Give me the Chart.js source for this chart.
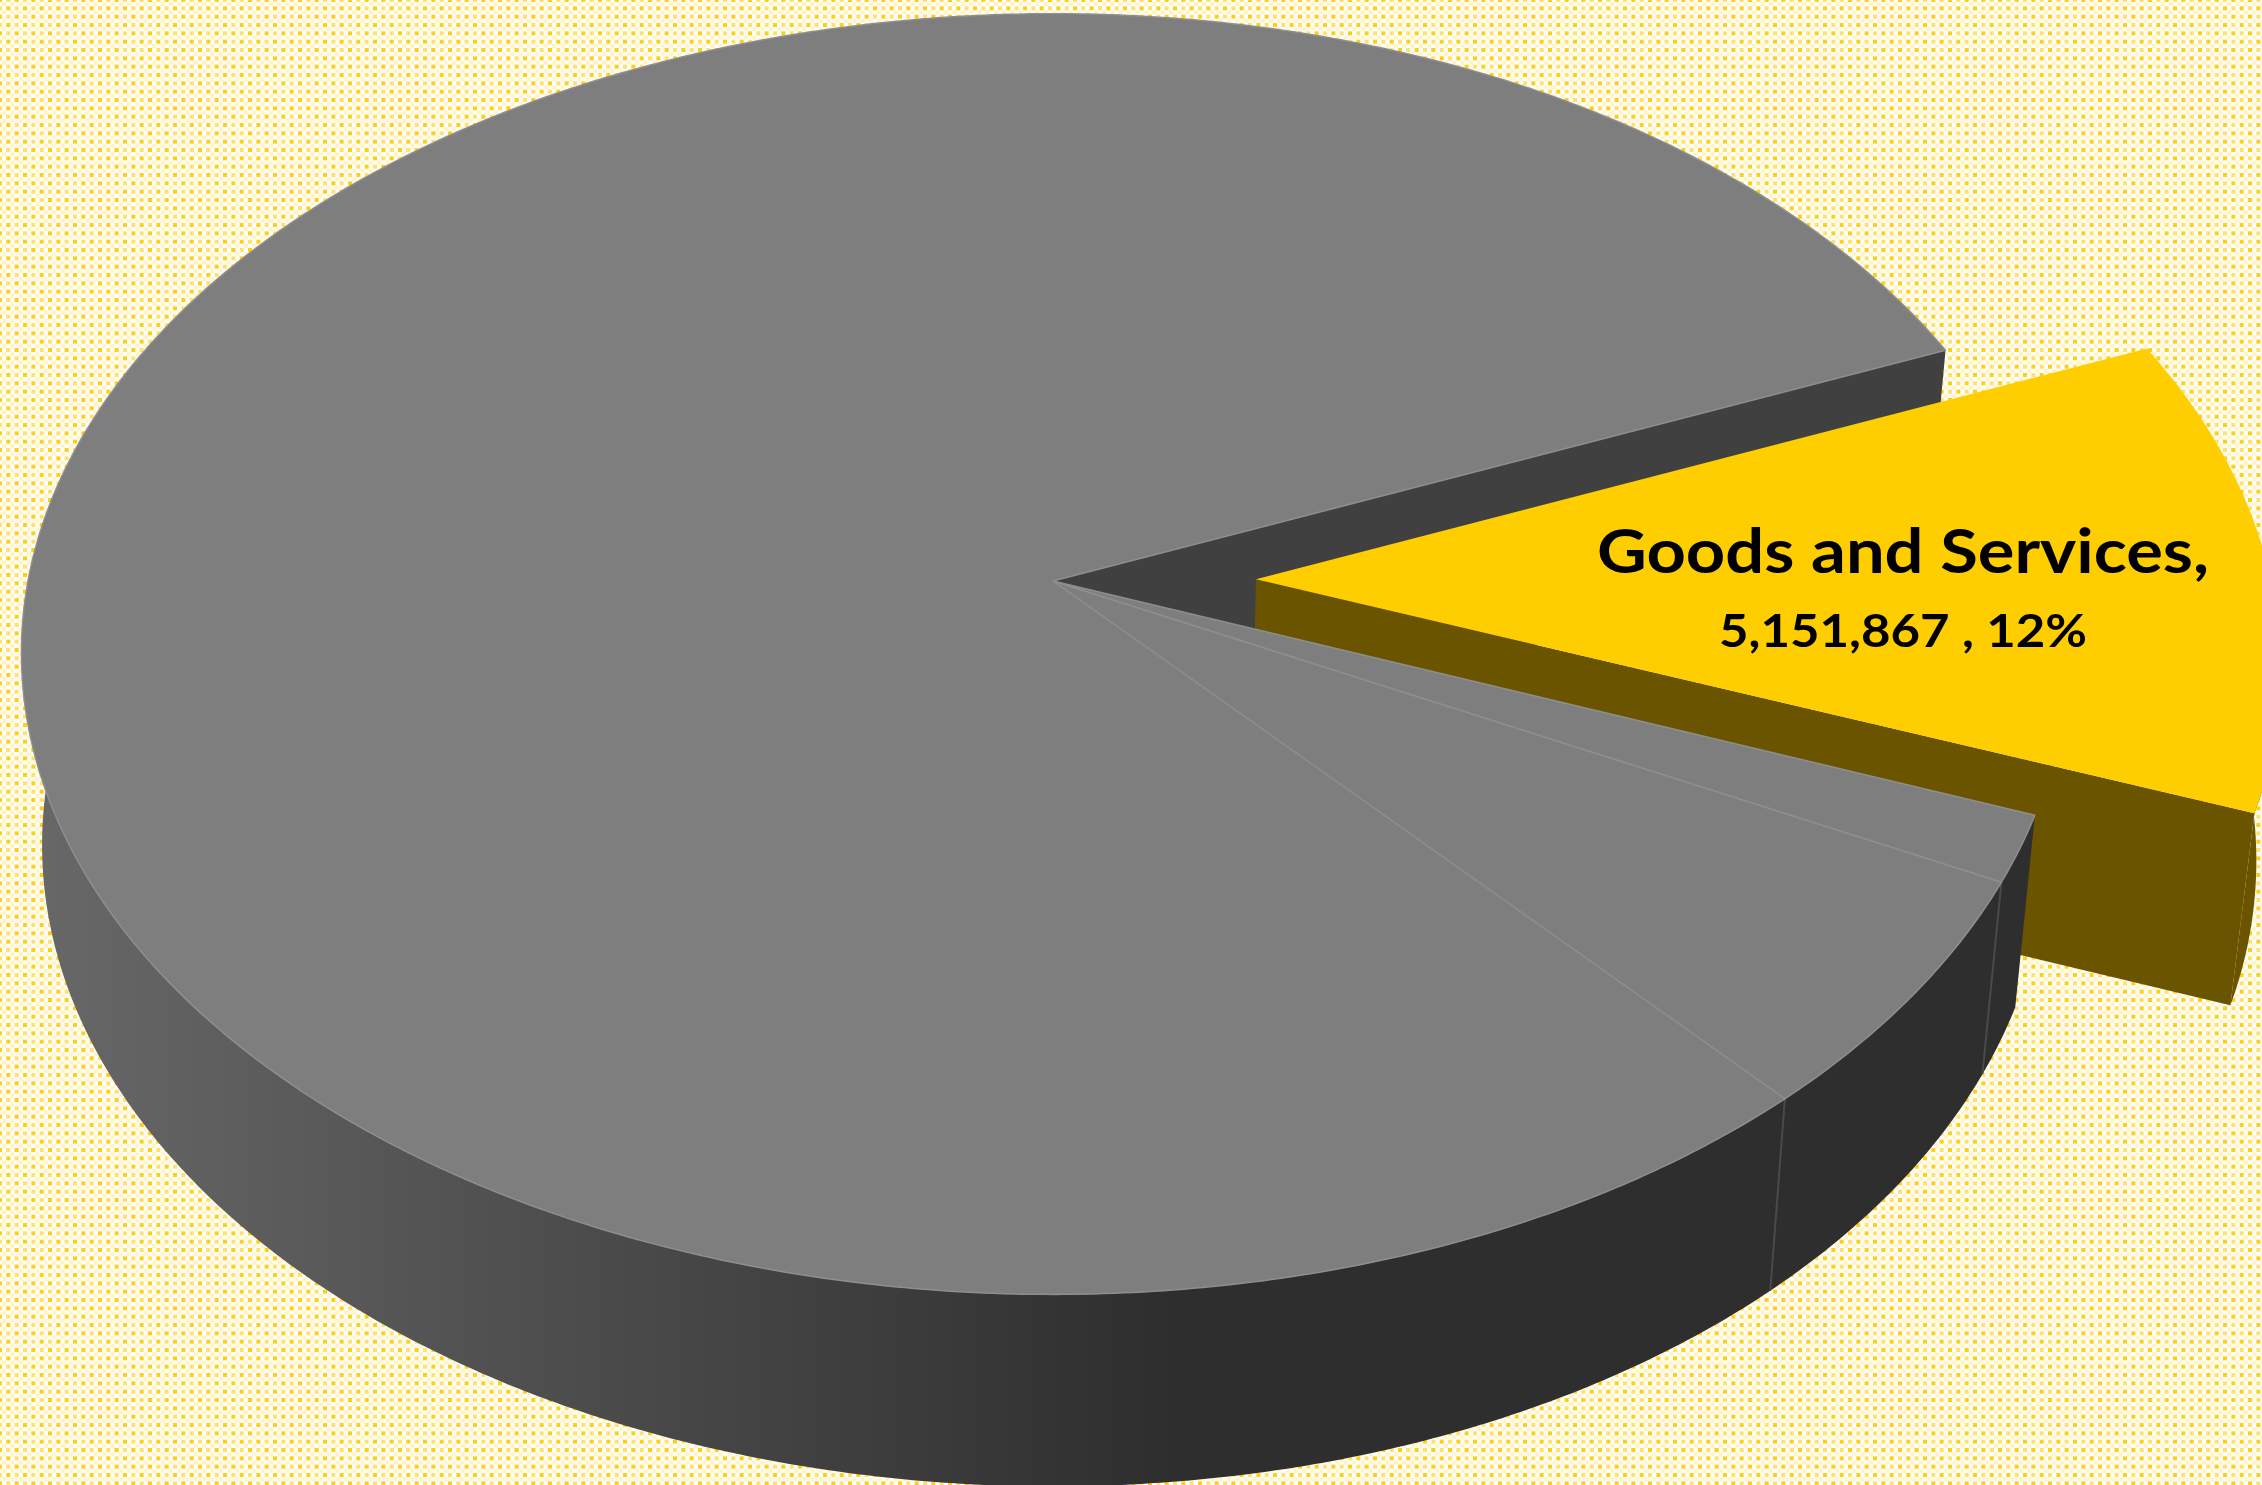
<!DOCTYPE html>
<html>
<head>
<meta charset="utf-8">
<title>Goods and Services</title>
<style>
  html, body { margin: 0; padding: 0; background: #fff; overflow: hidden; }
  canvas { display: block; }
</style>
<script src="https://cdn.jsdelivr.net/npm/chart.js@4/dist/chart.umd.min.js"></script>
</head>
<body>
<canvas id="grafico" width="2262" height="1485"></canvas>
<script>
const categorias = ["Goods and Services", "Other A", "Other B", "Other C"];
const valores = [5151867, 720000, 2580000, 34450000];

const coresTopo = ["#ffce00", "#7e7e7e", "#7e7e7e", "#7e7e7e"];
const coresBorda = ["#ffce00", "#8e8e8e", "#8e8e8e", "#8e8e8e"];
const larguraBorda = [0, 1.5, 1.5, 1.5];
const deslocamento = [135, 0, 0, 0];

// perspective of the disc: tip of the pie, radii, foreshortening, thickness
const PONTA_X = 1053, PONTA_Y = 581;
const RAIO_X = 1016, RAIO_Y = 632, FUGA = 0.1141, DESVIO = 9;
const ESCALA_BASE = 0.98, ALTURA = 192;
const AUMENTO_DESTAQUE = 1.012; // pulled-out slice comes forward, so its rim reads wider

function projetar(u, v, base) {
    const w = 1 - FUGA * v;
    let x = RAIO_X * u / w - DESVIO * u * u;
    let y = RAIO_Y * v / w;
    if (base) {
        x *= ESCALA_BASE;
        y += ALTURA;
    }
    return [PONTA_X + x, PONTA_Y + y];
}

function explosao(arco) {
    const meio = (arco.startAngle + arco.endAngle) / 2;
    const e = arco.options.offset / arco.outerRadius;
    return [e * Math.cos(meio), e * Math.sin(meio)];
}

function pontoAro(arco, ang, base) {
    const [ox, oy] = explosao(arco);
    const aumento = arco.options.offset > 0 ? AUMENTO_DESTAQUE : 1;
    return projetar(Math.cos(ang) * aumento + ox, Math.sin(ang) + oy, base);
}

function pontoCentro(arco, base) {
    const [ox, oy] = explosao(arco);
    return projetar(ox, oy, base);
}

function amostrarAro(arco, base, ini, fim) {
    const pts = [];
    const passos = Math.max(1, Math.ceil((fim - ini) / (Math.PI / 360)));
    for (let i = 0; i <= passos; i++) {
        pts.push(pontoAro(arco, ini + (fim - ini) * i / passos, base));
    }
    return pts;
}

function poligono(ctx, pts, fill) {
    ctx.beginPath();
    pts.forEach((p, i) => i ? ctx.lineTo(p[0], p[1]) : ctx.moveTo(p[0], p[1]));
    ctx.closePath();
    ctx.fillStyle = fill;
    ctx.fill();
}

// only the front of the rim is ever seen, the back stays behind the top face
function desenharParede(ctx, arco, fill) {
    const ini = Math.max(arco.startAngle, 0);
    const fim = Math.min(arco.endAngle, Math.PI * 190 / 180);
    const cima = amostrarAro(arco, false, ini, fim);
    const baixo = amostrarAro(arco, true, ini, fim).reverse();
    poligono(ctx, cima.concat(baixo), fill);
}

function desenharTopo(ctx, arco) {
    const pts = [pontoCentro(arco, false)].concat(amostrarAro(arco, false, arco.startAngle, arco.endAngle));
    poligono(ctx, pts, arco.options.backgroundColor);
    if (arco.options.borderWidth > 0) {
        ctx.strokeStyle = arco.options.borderColor;
        ctx.lineWidth = arco.options.borderWidth;
        ctx.lineJoin = "round";
        ctx.stroke();
    }
}

function desenharFace(ctx, arco, ang, fill) {
    poligono(ctx, [
        pontoCentro(arco, false), pontoAro(arco, ang, false),
        pontoAro(arco, ang, true), pontoCentro(arco, true)
    ], fill);
}

function linhaParede(ctx, arco, ang) {
    const a = pontoAro(arco, ang, false), b = pontoAro(arco, ang, true);
    ctx.beginPath();
    ctx.moveTo(a[0], a[1]);
    ctx.lineTo(b[0], b[1]);
    ctx.strokeStyle = "#4a4a4a";
    ctx.lineWidth = 2;
    ctx.stroke();
}

// dotted fill behind the pie
function criarPadrao(ctx) {
    const tile = document.createElement("canvas");
    tile.width = 50;
    tile.height = 50;
    const t = tile.getContext("2d");
    t.fillStyle = "#fffef8";
    t.fillRect(0, 0, 50, 50);
    const passo = 50 / 6;
    const lado = 4;
    for (let lin = 0; lin < 7; lin++) {
        for (let col = -1; col < 4; col++) {
            const x = col * passo * 2 + (lin % 2) * passo;
            const y = lin * passo;
            t.fillStyle = "#fff3c8";
            t.fillRect(x + passo / 2 - lado / 2, y + passo / 2 - lado / 2, lado, lado);
            t.fillRect(x + passo * 1.5 - lado / 2, y + passo / 2 - lado / 2, lado, lado);
            t.fillStyle = "#ffe170";
            t.fillRect(x + passo - lado / 2, y - lado / 2, lado, lado);
            t.fillStyle = "#ffcf14";
            t.fillRect(x - lado / 2, y - lado / 2, lado, lado);
        }
    }
    return ctx.createPattern(tile, "repeat");
}

const pizza3d = {
    id: "pizza3d",
    beforeDraw(chart) {
        const { ctx, width, height } = chart;
        ctx.save();
        ctx.fillStyle = criarPadrao(ctx);
        ctx.fillRect(0, 0, width, height);
        ctx.restore();
    },
    beforeDatasetsDraw(chart) {
        const ctx = chart.ctx;
        const arcos = chart.getDatasetMeta(0).data;
        const destaque = arcos.filter(a => a.options.offset > 0);
        const resto = arcos.filter(a => !(a.options.offset > 0));

        const grad = ctx.createLinearGradient(30, 0, 1170, 0);
        grad.addColorStop(0, "#686868");
        grad.addColorStop(1, "#2e2e2e");

        ctx.save();
        // cut face of the disc behind the pulled-out slice
        const maior = resto[resto.length - 1];
        desenharFace(ctx, maior, maior.endAngle, "#404040");

        destaque.forEach(a => {
            desenharParede(ctx, a, "#6b5400");
            desenharFace(ctx, a, a.endAngle, "#6b5400");
            desenharTopo(ctx, a);
        });

        resto.forEach(a => desenharParede(ctx, a, grad));
        resto.slice(1).forEach(a => linhaParede(ctx, a, a.startAngle));
        resto.forEach(a => desenharTopo(ctx, a));
        ctx.restore();
        return false; // the arcs above replace the flat ones
    },
    afterDraw(chart) {
        const ctx = chart.ctx;
        const total = valores.reduce((s, v) => s + v, 0);
        const pct = Math.round(valores[0] / total * 100);
        ctx.save();
        ctx.fillStyle = "#000";
        ctx.textAlign = "center";
        ctx.textBaseline = "alphabetic";
        // label glyphs run wider than the font, stretch them sideways
        ctx.translate(1903, 0);
        ctx.scale(1.107, 1);
        ctx.font = "bold 62px Lato";
        ctx.fillText(categorias[0] + ",", 0, 573);
        ctx.font = "bold 46px Lato";
        ctx.fillText(valores[0].toLocaleString("en-US") + " , " + pct + "%", 0, 647);
        ctx.restore();
    }
};

new Chart(document.getElementById("grafico"), {
    type: "pie",
    data: {
        labels: categorias,
        datasets: [{
            data: valores,
            backgroundColor: coresTopo,
            borderColor: coresBorda,
            borderWidth: larguraBorda,
            offset: deslocamento
        }]
    },
    options: {
        responsive: false,
        animation: false,
        rotation: 67.6,
        plugins: {
            legend: { display: false },
            tooltip: { enabled: false }
        }
    },
    plugins: [pizza3d]
});
</script>
</body>
</html>
